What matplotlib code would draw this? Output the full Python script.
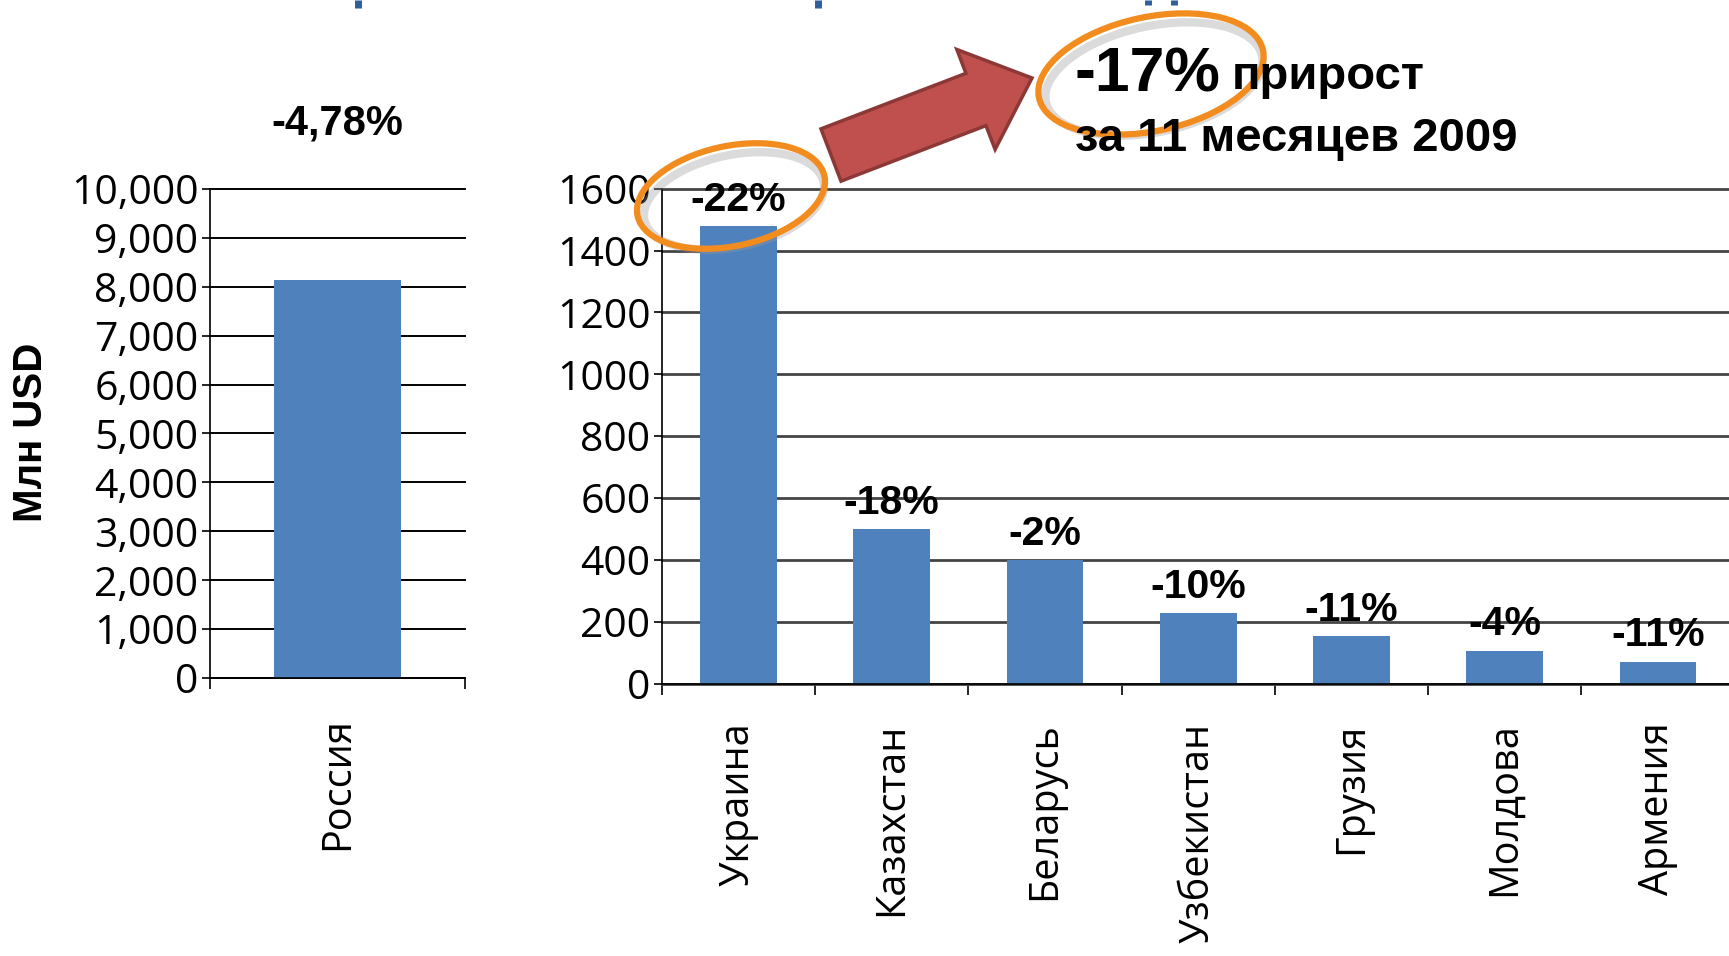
import matplotlib
matplotlib.use("Agg")
import matplotlib.pyplot as plt
import matplotlib.patches as mpatches
from matplotlib.transforms import Affine2D
from matplotlib.lines import Line2D

# data
russia_label = "Россия"
russia_value = 8130
russia_change = "-4,78%"

countries = ["Украина", "Казахстан", "Беларусь", "Узбекистан", "Грузия", "Молдова", "Армения"]
values = [1479, 499, 399, 228, 153, 107, 71]
changes = ["-22%", "-18%", "-2%", "-10%", "-11%", "-4%", "-11%"]

left_ticks = list(range(0, 10001, 1000))
right_ticks = list(range(0, 1601, 200))

total_change = "-17%"
note_word = "прирост"
note_line2 = "за 11 месяцев 2009"

BAR = "#4F81BD"
W, H = 1729, 956
tick_font = ["Open Sans", "DejaVu Sans"]
bold_font = ["Liberation Sans", "DejaVu Sans"]

fig = plt.figure(figsize=(W / 100, H / 100), dpi=100)
px = Affine2D().scale(1 / W, 1 / H) + fig.transFigure


def style_axes(ax, grid_color, grid_lw):
    ax.set_axisbelow(True)
    ax.yaxis.grid(True, color=grid_color, lw=grid_lw)
    for ln in ax.get_ygridlines():
        ln.set_clip_on(False)
    for s in ["top", "right"]:
        ax.spines[s].set_visible(False)
    ax.spines["left"].set_linewidth(1.2)
    ax.spines["bottom"].set_linewidth(1.2)
    ax.tick_params(axis="y", direction="out", length=6, width=1.2, pad=2, labelsize=29.5)
    ax.tick_params(axis="x", which="major", length=0, pad=28, labelsize=28.5)
    ax.tick_params(axis="x", which="minor", direction="out", length=8, width=1.2)
    for lab in ax.get_xticklabels() + ax.get_yticklabels():
        lab.set_family(tick_font)


# left panel: Russia
ax1 = fig.add_axes([0.1212, 0.2906, 0.148, 0.512])
ax1.bar([0], [russia_value], width=0.5, color=BAR, zorder=2)
ax1.set_xlim(-0.5, 0.5)
ax1.set_ylim(0, 10000)
ax1.set_yticks(left_ticks)
ax1.set_yticklabels([f"{t:,}" for t in left_ticks])
ax1.set_xticks([0])
ax1.set_xticklabels([russia_label], rotation=90, va="top")
ax1.set_xticks([-0.5, 0.5], minor=True)
style_axes(ax1, "black", 1.4)
ax1.text(0.5, 1.133, russia_change, transform=ax1.transAxes, ha="center", va="center",
         fontsize=30, fontweight="bold", family=bold_font)

# right panel: other countries
ax2 = fig.add_axes([0.3827, 0.2848, 0.6206, 0.5179])
x = list(range(len(countries)))
ax2.bar(x, values, width=0.5, color=BAR, zorder=2)
ax2.set_xlim(-0.5, len(countries) - 0.5)
ax2.set_ylim(0, 1600)
ax2.set_yticks(right_ticks)
ax2.set_yticklabels([str(t) for t in right_ticks])
ax2.set_xticks(x)
ax2.set_xticklabels(countries, rotation=90, va="top")
ax2.set_xticks([i - 0.5 for i in range(len(countries) + 1)], minor=True)
style_axes(ax2, "#444444", 2.0)
for i, (v, c) in enumerate(zip(values, changes)):
    ax2.annotate(c, xy=(i, v), xytext=(0, 19), textcoords="offset points",
                 ha="center", va="center", fontsize=29.5, fontweight="bold",
                 family=bold_font, zorder=5)

# y label
fig.text(31 / W, 1 - 432 / H, "Млн USD", rotation=90, ha="center", va="center",
         fontsize=29, fontweight="bold", family=bold_font)

# annotation: arrow, ellipses, note
arrow = mpatches.FancyArrow(831, H - 155, 201, 77, width=56, head_width=107, head_length=60,
                            length_includes_head=True, transform=px,
                            facecolor="#C0504D", edgecolor="#8C3836", lw=2.5)
fig.patches.append(arrow)

fig.text(1075, H - 75, total_change, transform=px, ha="left", va="center",
         fontsize=45, fontweight="bold", family=bold_font)
fig.text(1232, H - 77, note_word, transform=px, ha="left", va="center",
         fontsize=34, fontweight="bold", family=bold_font)
fig.text(1075, H - 139, note_line2, transform=px, ha="left", va="center",
         fontsize=34, fontweight="bold", family=bold_font)

for cx, cy, w, h, ang in [(731, 196, 191, 100, 12), (1151, 74, 229, 114, 12)]:
    shadow = mpatches.Ellipse((cx + 3, H - cy - 5), w - 8, h - 8, angle=ang, transform=px,
                              fill=False, edgecolor="#999999", lw=6, alpha=0.35)
    ring = mpatches.Ellipse((cx, H - cy), w, h, angle=ang, transform=px,
                            fill=False, edgecolor="#F28C1E", lw=4.5)
    fig.patches.extend([shadow, ring])

# fragments of the cut-off title at the top edge
for xm, hm in [(358, 8), (818, 8), (1148, 5), (1174, 5)]:
    fig.add_artist(Line2D([xm, xm], [H, H - hm], transform=px, color="#2F5F9A", lw=5,
                          solid_capstyle="butt"))

fig.savefig("out.png", dpi=100)
